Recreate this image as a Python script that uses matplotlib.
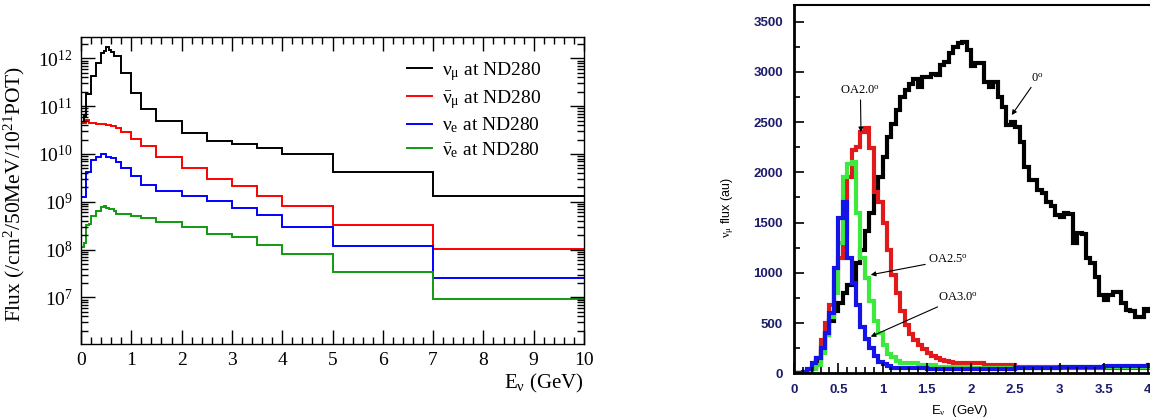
import matplotlib
matplotlib.use('Agg')
import matplotlib.pyplot as plt
import numpy as np
from matplotlib.ticker import MultipleLocator, LogLocator, NullFormatter, FuncFormatter

plt.rcParams['font.family'] = ['Liberation Serif', 'DejaVu Serif']
plt.rcParams['mathtext.fontset'] = 'custom'
plt.rcParams['mathtext.rm'] = 'Liberation Serif'
plt.rcParams['mathtext.it'] = 'Liberation Serif:italic'
plt.rcParams['mathtext.bf'] = 'Liberation Serif:bold'

# ---------------- left panel data (flux per bin, /cm2/50MeV/1e21 POT) ----------------
edges_nd280 = [0.0, 0.05, 0.1, 0.15, 0.2, 0.3, 0.4, 0.45, 0.5, 0.55, 0.6, 0.65, 0.7,
               0.8, 1.0, 1.2, 1.5, 2.0, 2.5, 3.0, 3.5, 4.0, 5.0, 7.0, 10.0]
numu_nd280 = [4.4e10, 6.3e10, 1.8e11, 1.8e11, 4.3e11, 7.9e11, 1.32e12, 1.45e12, 1.74e12,
              1.51e12, 1.38e12, 1.12e12, 1.12e12, 4.9e11, 1.86e11, 8.9e10, 4.9e10,
              2.75e10, 1.86e10, 1.62e10, 1.35e10, 1.0e10, 4.3e9, 1.35e9]
numubar_nd280 = [4.4e10, 4.4e10, 5.1e10, 4.4e10, 4.4e10, 4.3e10, 4.2e10, 4.2e10, 4.0e10,
                 4.0e10, 3.8e10, 3.8e10, 3.5e10, 2.9e10, 2.1e10, 1.5e10, 8.5e9,
                 5.1e9, 3.0e9, 2.1e9, 1.3e9, 8.1e8, 3.3e8, 1.05e8]
nue_nd280 = [1.23e9, 1.23e9, 4.2e9, 4.2e9, 7.6e9, 8.5e9, 9.8e9, 9.8e9, 8.5e9,
             8.5e9, 8.3e9, 8.3e9, 6.9e9, 5.2e9, 3.5e9, 2.3e9, 1.7e9,
             1.3e9, 1.05e9, 7.4e8, 5.2e8, 3.0e8, 1.17e8, 2.6e7]
nuebar_nd280 = [1.12e8, 1.4e8, 3.3e8, 3.5e8, 5.0e8, 6.3e8, 7.6e8, 8.3e8, 7.4e8,
                7.2e8, 6.9e8, 6.3e8, 5.6e8, 5.5e8, 5.0e8, 4.6e8, 3.7e8,
                2.95e8, 2.1e8, 1.8e8, 1.23e8, 7.9e7, 3.4e7, 9.3e6]
left_labels = [r'$\mathrm{\nu_\mu}$ at ND280', r'$\mathrm{\bar{\nu}_\mu}$ at ND280',
               r'$\mathrm{\nu_e}$ at ND280', r'$\mathrm{\bar{\nu}_e}$ at ND280']
left_colors = ['black', '#ff0000', '#0000ff', '#109a10']

# ---------------- right panel data (nu_mu flux, au, 50 MeV bins 0-4.2 GeV) ----------------
bin_width = 0.05
n_bins = 84
flux_0deg = [0, 0, 5, 20, 50, 120, 220, 380, 520, 620,
             700, 800, 880, 900, 1100, 1230, 1420, 1600, 1820, 1950,
             2150, 2350, 2480, 2620, 2750, 2820, 2880, 2930, 2850, 2950,
             2950, 2980, 2970, 3070, 3100, 3190, 3250, 3290, 3300, 3215,
             3060, 3085, 3085, 2900, 2850, 2900, 2750, 2650, 2470, 2500,
             2450, 2300, 2055, 1925, 1925, 1820, 1790, 1700, 1660, 1580,
             1560, 1600, 1590, 1300, 1395, 1390, 1150, 1100, 960, 780,
             730, 780, 810, 810, 700, 630, 620, 565, 560, 640,
             620, 600, 600, 600]
flux_oa20 = [0, 0, 5, 15, 50, 150, 330, 500, 680, 900,
             1150, 1400, 1950, 2220, 2250, 2400, 2440, 2240, 1800, 1700,
             1500, 1230, 980, 800, 620, 480, 390, 330, 280, 240,
             200, 170, 150, 130, 120, 110, 100, 100, 100, 100,
             100, 100, 100, 80, 80, 80, 80, 80, 80, 80,
             60, 60, 60, 60, 60, 60, 60, 60, 60, 60,
             55, 55, 55, 55, 55, 55, 55, 55, 55, 55,
             55, 55, 55, 55, 55, 55, 55, 55, 55, 55,
             55, 55, 55, 55]
flux_oa25 = [0, 0, 5, 15, 40, 80, 200, 380, 560, 800,
             1300, 1950, 2080, 2100, 1600, 1150, 950, 720, 520, 400,
             280, 190, 160, 120, 100, 100, 100, 100, 80, 80,
             80, 80, 65, 65, 65, 65, 65, 65, 65, 65,
             55, 55, 55, 55, 55, 55, 55, 55, 55, 55,
             55, 55, 55, 55, 55, 55, 55, 55, 55, 55,
             60, 60, 60, 60, 60, 60, 60, 60, 60, 60,
             65, 65, 65, 65, 65, 65, 65, 65, 65, 65,
             70, 70, 70, 70]
flux_oa30 = [0, 5, 15, 40, 100, 150, 250, 400, 600, 1050,
             1550, 1700, 1150, 900, 680, 460, 340, 250, 170, 110,
             90, 70, 50, 50, 50, 50, 50, 50, 50, 50,
             40, 40, 40, 40, 40, 40, 40, 40, 40, 40,
             40, 40, 40, 40, 40, 40, 40, 40, 40, 40,
             50, 50, 50, 50, 50, 50, 50, 50, 50, 50,
             60, 60, 60, 60, 60, 60, 60, 60, 60, 60,
             75, 75, 75, 75, 75, 75, 75, 75, 75, 75,
             80, 80, 80, 80]
right_colors = ['black', '#e01a1a', '#3ee83e', '#1414e6']

# ================= figure =================
fig = plt.figure(figsize=(11.5, 4.19), dpi=100)

# ---------- left panel ----------
ax1 = fig.add_axes([81/1150, 1-344/419, 503/1150, 307/419])
for vals, col, lab in zip([numu_nd280, numubar_nd280, nue_nd280, nuebar_nd280],
                          left_colors, left_labels):
    ax1.stairs(vals, edges_nd280, color=col, lw=1.4, label=lab, baseline=None)
ax1.set_yscale('log')
ax1.set_xlim(0, 10)
ax1.set_ylim(1.06e6, 2.8e12)
ax1.xaxis.set_major_locator(MultipleLocator(1))
ax1.xaxis.set_minor_locator(MultipleLocator(0.2))
ax1.yaxis.set_major_locator(LogLocator(base=10, numticks=20))
ax1.yaxis.set_minor_locator(LogLocator(base=10, subs=np.arange(2, 10), numticks=40))
ax1.yaxis.set_minor_formatter(NullFormatter())
ax1.tick_params(which='both', direction='in', top=True, right=True, labelsize=14, width=1)
ax1.tick_params(which='major', length=10, pad=6)
ax1.tick_params(which='minor', length=5)
for sp in ax1.spines.values():
    sp.set_linewidth(1.0)
ax1.set_ylabel(r'Flux (/cm$^2$/50MeV/10$^{21}$POT)', fontsize=15.5)
ax1.yaxis.set_label_coords(-0.108, 0.49)
ax1.set_xlabel(r'E$_\mathrm{\nu}$ (GeV)', fontsize=15, loc='right', labelpad=2)
ax1.legend(frameon=False, loc='upper right', bbox_to_anchor=(0.915, 0.925),
           fontsize=14, borderpad=0, borderaxespad=0, handlelength=1.3,
           handletextpad=0.5, labelspacing=0.25)

# ---------- right panel ----------
edges_r = np.arange(n_bins + 1) * bin_width
ax2 = fig.add_axes([794/1150, 1-373.3/419, 371.7/1150, 368.3/419])
for vals, col in zip([flux_0deg, flux_oa20, flux_oa25, flux_oa30], right_colors):
    ax2.stairs(vals, edges_r, color=col, lw=3.0, baseline=None)
ax2.set_xlim(0, n_bins * bin_width)
ax2.set_ylim(0, 3665)
ax2.xaxis.set_major_locator(MultipleLocator(0.5))
ax2.xaxis.set_minor_locator(MultipleLocator(0.1))
ax2.yaxis.set_major_locator(MultipleLocator(500))
ax2.yaxis.set_minor_locator(MultipleLocator(250))
ax2.xaxis.set_major_formatter(FuncFormatter(lambda v, p: '%g' % v))
ax2.tick_params(which='both', direction='in', labelsize=9.5, labelcolor='#1c1c6c', width=1.2)
ax2.tick_params(which='major', length=7, pad=8)
ax2.tick_params(which='minor', length=4)
for lbl in ax2.get_xticklabels() + ax2.get_yticklabels():
    lbl.set_fontweight('bold')
    lbl.set_family('Liberation Sans')
ax2.spines['left'].set_linewidth(2)
ax2.spines['bottom'].set_linewidth(2)
ax2.spines['top'].set_linewidth(1.5)
ax2.set_ylabel(r'$\mathrm{\nu_\mu}$ flux (au)', fontsize=9, family='Liberation Sans')
ax2.yaxis.set_label_coords(-0.155, 0.45)
ax2.set_xlabel(r'E$_\mathrm{\nu}$  (GeV)', fontsize=9.5, family='Liberation Sans')
ax2.xaxis.set_label_coords(0.447, -0.08)

arrow = dict(arrowstyle='-|>', color='black', lw=0.8, mutation_scale=7, shrinkA=0, shrinkB=0)
ax2.annotate(r'OA2.0$^{\rm o}$', xy=(0.757, 2400), xytext=(0.75, 2810),
             ha='center', va='center', fontsize=9, arrowprops=arrow)
ax2.annotate(r'0$^{\rm o}$', xy=(2.46, 2570), xytext=(2.75, 2935),
             ha='center', va='center', fontsize=9, arrowprops=arrow)
ax2.annotate(r'OA2.5$^{\rm o}$', xy=(0.867, 980), xytext=(1.74, 1127),
             ha='center', va='center', fontsize=9, arrowprops=arrow)
ax2.annotate(r'OA3.0$^{\rm o}$', xy=(0.867, 365), xytext=(1.85, 750),
             ha='center', va='center', fontsize=9, arrowprops=arrow)

fig.savefig('out.png', dpi=100)
